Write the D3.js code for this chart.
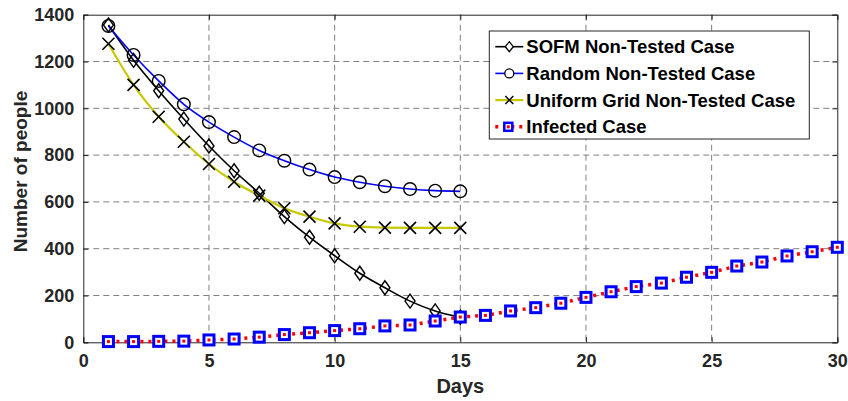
<!DOCTYPE html>
<html>
<head>
<meta charset="utf-8">
<script src="https://cdn.jsdelivr.net/npm/d3@7"></script>
<style>
  body { margin: 0; background: #fff; }
  text { font-family: 'Liberation Sans', Arial, sans-serif; font-weight: bold; }
</style>
</head>
<body>
<script>
const w = 848;
const h = 401;

const days = d3.range(1, 31);
const sofm = [1356, 1205, 1075, 954, 839, 733, 637, 537, 449, 370, 295, 233, 176, 134, 107];
const random = [1352, 1228, 1117, 1017, 941, 877, 820, 776, 738, 706, 684, 667, 655, 648, 645];
const uniform = [1276, 1100, 964, 857, 762, 686, 627, 573, 537, 508, 494, 490, 489, 489, 489];
const infected = [3, 3, 4, 5, 10, 14, 22, 33, 41, 50, 58, 70, 74, 91, 108,
  115, 134, 148, 167, 192, 216, 238, 253, 278, 299, 326, 343, 369, 387, 406];

const xTicks = [0, 5, 10, 15, 20, 25, 30];
const yTicks = [0, 200, 400, 600, 800, 1000, 1200, 1400];
const legendLabels = ['SOFM Non-Tested Case', 'Random Non-Tested Case',
  'Uniform Grid Non-Tested Case', 'Infected Case'];

const margin = { left: 83.3, top: 14.7, right: 10.7, bottom: 58.7 };
const pw = w - margin.left - margin.right;
const ph = h - margin.top - margin.bottom;

const x = d3.scaleLinear().domain([0, 30]).range([0, pw]);
const y = d3.scaleLinear().domain([0, 1400]).range([ph, 0]);

const svg = d3.select('body').append('svg')
  .attr('width', w)
  .attr('height', h);

const g = svg.append('g')
  .attr('transform', `translate(${margin.left},${margin.top})`);

// grid
g.append('g').selectAll('line')
  .data(xTicks.slice(1, -1))
  .enter().append('line')
  .attr('x1', d => x(d)).attr('x2', d => x(d))
  .attr('y1', 0).attr('y2', ph)
  .attr('stroke', '#808080').attr('stroke-dasharray', '6,4');
g.append('g').selectAll('line')
  .data(yTicks.slice(1, -1))
  .enter().append('line')
  .attr('x1', 0).attr('x2', pw)
  .attr('y1', d => y(d)).attr('y2', d => y(d))
  .attr('stroke', '#808080').attr('stroke-dasharray', '6,4');

// axes
const axisColor = '#262626';
g.append('g').attr('transform', `translate(0,${ph})`)
  .call(d3.axisBottom(x).tickValues(xTicks).tickSize(-5).tickPadding(12).tickFormat(d3.format('d')));
g.append('g')
  .call(d3.axisLeft(y).tickValues(yTicks).tickSize(-5).tickPadding(9).tickFormat(d3.format('d')));
g.append('g').attr('transform', `translate(${pw},0)`)
  .call(d3.axisRight(y).tickValues(yTicks).tickSize(-5).tickFormat(''));
g.append('g')
  .call(d3.axisTop(x).tickValues(xTicks).tickSize(-5).tickFormat(''));
g.selectAll('.domain').attr('stroke', axisColor);
g.selectAll('.tick line').attr('stroke', axisColor);
g.selectAll('.tick text')
  .attr('fill', axisColor)
  .style('font-size', '18px')
  .style('font-weight', 'bold');

svg.append('text')
  .attr('x', margin.left + pw / 2)
  .attr('y', 393)
  .attr('text-anchor', 'middle')
  .attr('fill', axisColor)
  .style('font-size', '20px')
  .text('Days');
svg.append('text')
  .attr('transform', 'translate(27,171.5) rotate(-90)')
  .attr('text-anchor', 'middle')
  .attr('fill', axisColor)
  .style('font-size', '19px')
  .text('Number of people');

// markers
const diamond = (sel, cx, cy) => sel.append('path')
  .attr('d', `M${cx},${cy - 7}L${cx + 5},${cy}L${cx},${cy + 7}L${cx - 5},${cy}Z`)
  .attr('fill', 'none').attr('stroke', '#000').attr('stroke-width', 1.4);
const circle = (sel, cx, cy) => sel.append('circle')
  .attr('cx', cx).attr('cy', cy).attr('r', 6.3)
  .attr('fill', 'none').attr('stroke', '#000').attr('stroke-width', 1.4);
const cross = (sel, cx, cy) => sel.append('path')
  .attr('d', `M${cx - 6},${cy - 6}L${cx + 6},${cy + 6}M${cx - 6},${cy + 6}L${cx + 6},${cy - 6}`)
  .attr('stroke', '#000').attr('stroke-width', 1.6);
const square = (sel, cx, cy) => sel.append('rect')
  .attr('x', cx - 5).attr('y', cy - 5).attr('width', 10).attr('height', 10)
  .attr('fill', '#fff').attr('stroke', '#0000ff').attr('stroke-width', 3);

const series = [
  { vals: sofm, color: '#000', width: 1.6, dash: null, curve: d3.curveMonotoneX, mark: diamond },
  { vals: random, color: '#0000ff', width: 1.6, dash: null, curve: d3.curveMonotoneX, mark: circle },
  { vals: uniform, color: '#c8c800', width: 2.2, dash: null, curve: d3.curveMonotoneX, mark: cross },
  { vals: infected, color: '#ff0000', width: 3.5, dash: '3,5', curve: d3.curveLinear, mark: square }
];

series.forEach(s => {
  const line = d3.line()
    .x((d, i) => x(days[i]))
    .y(d => y(d))
    .curve(s.curve);
  g.append('path')
    .datum(s.vals)
    .attr('d', line)
    .attr('fill', 'none')
    .attr('stroke', s.color)
    .attr('stroke-width', s.width)
    .attr('stroke-dasharray', s.dash);
});
series.forEach(s => {
  const mg = g.append('g');
  s.vals.forEach((d, i) => s.mark(mg, x(days[i]), y(d)));
});
// red dots over squares for infected line
g.append('g').selectAll('rect')
  .data(infected)
  .enter().append('rect')
  .attr('x', (d, i) => x(days[i]) - 1.5)
  .attr('y', d => y(d) - 1.5)
  .attr('width', 3).attr('height', 3)
  .attr('fill', '#ff0000');

// legend
const lg = svg.append('g').attr('transform', 'translate(489.3,31)');
lg.append('rect')
  .attr('width', 320).attr('height', 108)
  .attr('fill', '#fff').attr('stroke', '#262626').attr('stroke-width', 1);
legendLabels.forEach((label, i) => {
  const s = series[i];
  const cy = 15.7 + i * 26.7;
  lg.append('line')
    .attr('x1', 6).attr('x2', 34).attr('y1', cy).attr('y2', cy)
    .attr('stroke', s.color).attr('stroke-width', s.width)
    .attr('stroke-dasharray', s.dash);
  if (s.mark === square) {
    lg.append('rect').attr('x', 15).attr('y', cy - 4).attr('width', 8).attr('height', 8)
      .attr('fill', '#fff').attr('stroke', '#0000ff').attr('stroke-width', 2.5);
    lg.append('rect').attr('x', 17.5).attr('y', cy - 1.5).attr('width', 3).attr('height', 3)
      .attr('fill', '#ff0000');
  } else if (s.mark === diamond) {
    lg.append('path').attr('d', `M20,${cy - 5}L24,${cy}L20,${cy + 5}L16,${cy}Z`)
      .attr('fill', '#fff').attr('stroke', '#000').attr('stroke-width', 1.3);
  } else if (s.mark === circle) {
    lg.append('circle').attr('cx', 20).attr('cy', cy).attr('r', 4.5)
      .attr('fill', '#fff').attr('stroke', '#000').attr('stroke-width', 1.3);
  } else {
    lg.append('path').attr('d', `M16,${cy - 4}L24,${cy + 4}M16,${cy + 4}L24,${cy - 4}`)
      .attr('stroke', '#000').attr('stroke-width', 1.4);
  }
  lg.append('text')
    .attr('x', 37).attr('y', cy + 6.5)
    .attr('fill', '#000')
    .style('font-size', '18.5px')
    .text(label);
});
</script>
</body>
</html>
